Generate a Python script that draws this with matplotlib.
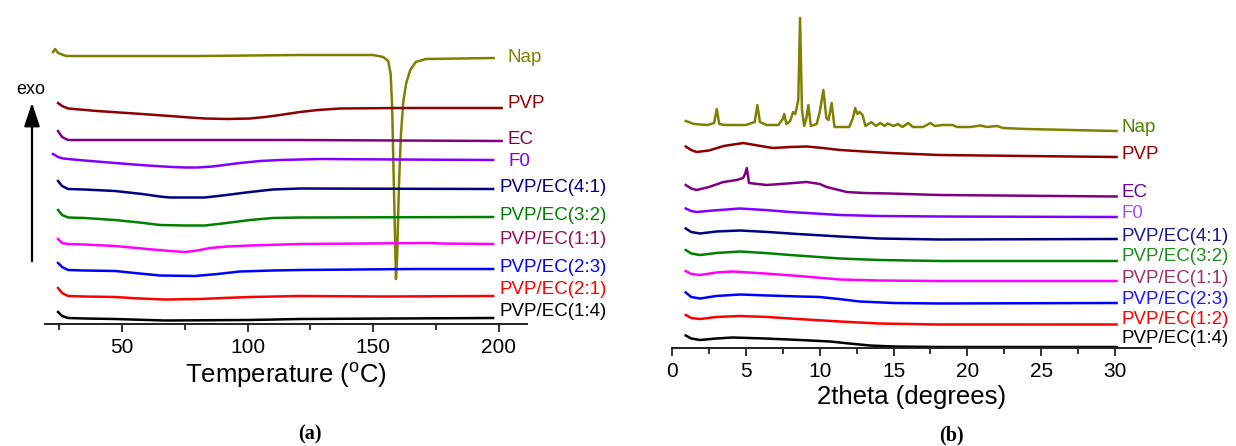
import matplotlib
matplotlib.use("Agg")
import matplotlib.pyplot as plt

plt.rcParams['font.family'] = ['Liberation Sans', 'DejaVu Sans']

# ---- (a) DSC curves, temperature in C, heat flow offset (a.u.) ----
nap_a_t = [22.5, 23.3, 24.5, 27.7, 41, 81, 121, 150, 154, 156, 157, 157.6, 158.3, 159.1,
           159.6, 160.3, 161.1, 162, 163.2, 164.8, 167, 171, 198]
nap_a_y = [27.2, 27.5, 27.1, 26.8, 26.8, 26.8, 26.9, 26.9, 26.7, 26.3, 25.0, 21.5, 13.5, 4.5,
           7.0, 14.0, 19.0, 22.2, 24.1, 25.4, 26.2, 26.5, 26.6]
pvp_a_t = [24.5, 26.1, 28.5, 40, 55, 69.1, 77, 83.0, 92, 101.0, 107, 112.9, 120.9, 128, 136.8,
           160.7, 201.2]
pvp_a_y = [22.1, 21.8, 21.55, 21.3, 21.05, 20.8, 20.65, 20.55, 20.5, 20.55, 20.7, 20.9, 21.2,
           21.4, 21.55, 21.6, 21.6]
ec_a_t = [24.5, 26.1, 28.5, 120, 201.2]
ec_a_y = [19.3, 18.7, 18.4, 18.4, 18.3]
f0_a_t = [22.5, 24.5, 26.5, 28.5, 35, 47.2, 60, 70, 75.1, 80, 86, 97.0, 105, 112.9, 128.9,
          160, 197.8]
f0_a_y = [17.0, 16.7, 16.55, 16.5, 16.35, 16.1, 15.85, 15.7, 15.65, 15.65, 15.75, 16.1, 16.3,
          16.4, 16.5, 16.45, 16.4]
r41_a_t = [24.5, 26.1, 28.5, 35, 47.2, 58, 65, 69.1, 83.0, 90, 101.0, 110, 120.9, 197.8]
r41_a_y = [14.3, 13.8, 13.5, 13.45, 13.3, 13.0, 12.75, 12.65, 12.65, 12.85, 13.2, 13.45, 13.55, 13.5]
r32_a_t = [24.5, 26.1, 28.5, 35, 47.2, 57, 65.1, 75, 83.0, 90, 101.0, 110, 120.9, 197.8]
r32_a_y = [11.4, 10.9, 10.65, 10.6, 10.4, 10.15, 9.9, 9.85, 9.85, 10.05, 10.4, 10.6, 10.65, 10.7]
r11_a_t = [24.5, 26.1, 28.5, 35, 47.2, 60, 69.1, 75.1, 80, 85.0, 92, 101.0, 120.9, 172.7,
           176.7, 197.8]
r11_a_y = [8.5, 8.1, 8.0, 7.95, 7.8, 7.5, 7.3, 7.2, 7.35, 7.6, 7.75, 7.85, 8.0, 8.1, 8.05, 8.0]
r23_a_t = [24.5, 26.1, 28.5, 35, 47.2, 57, 65.1, 79.1, 88, 97.0, 110, 120.9, 165.9, 197.8]
r23_a_y = [6.1, 5.7, 5.4, 5.35, 5.3, 5.05, 4.85, 4.8, 5.0, 5.25, 5.35, 5.4, 5.5, 5.5]
r21_a_t = [24.5, 26.1, 28.5, 35, 47.2, 57, 67.1, 81.1, 90, 101.0, 120.9, 154.8, 197.8]
r21_a_y = [3.6, 3.1, 2.8, 2.75, 2.7, 2.55, 2.45, 2.5, 2.6, 2.7, 2.8, 2.75, 2.8]
r14_a_t = [24.5, 26.1, 28.5, 35, 47.2, 67.1, 101.0, 120.9, 197.8]
r14_a_y = [1.2, 0.8, 0.6, 0.55, 0.5, 0.35, 0.4, 0.5, 0.6]

labels_a = ["Nap", "PVP", "EC", "F0", "PVP/EC(4:1)", "PVP/EC(3:2)", "PVP/EC(1:1)",
            "PVP/EC(2:3)", "PVP/EC(2:1)", "PVP/EC(1:4)"]

# ---- (b) XRD patterns, 2theta in degrees, intensity offset (a.u.) ----
nap_b_x = [0.93, 1.5, 2.4, 2.85, 3.03, 3.2, 3.6, 5.0, 5.6, 5.78, 5.95, 6.4, 7.2, 7.5, 7.6, 7.75,
           8.0, 8.2, 8.35, 8.55, 8.67, 8.8, 8.95, 9.1, 9.23, 9.4, 9.8, 10.0, 10.25, 10.45, 10.6,
           10.81, 11.0, 12.0, 12.25, 12.4, 12.55, 12.7, 12.9, 13.1, 13.5, 13.8, 14.1, 14.4, 14.6,
           15.0, 15.3, 15.6, 16.0, 16.3, 17.0, 17.5, 17.8, 18.3, 19.0, 19.3, 20.2, 20.9, 21.3,
           22.0, 22.4, 24.0, 27.0, 30.1]
nap_b_y = [22.7, 22.4, 22.3, 22.5, 23.9, 22.4, 22.3, 22.3, 22.6, 24.3, 22.6, 22.3, 22.3, 22.9, 23.4, 22.4,
           22.7, 23.6, 23.4, 24.8, 33.0, 23.8, 22.2, 23.0, 24.3, 22.2, 22.4, 23.6, 25.8, 23.0, 22.8,
           24.5, 22.1, 22.1, 23.0, 24.0, 23.4, 23.6, 23.3, 22.2, 22.6, 22.2, 22.5, 22.2, 22.45,
           22.2, 22.4, 22.1, 22.5, 22.1, 22.1, 22.5, 22.2, 22.3, 22.3, 22.1, 22.1, 22.25, 22.1,
           22.2, 22.0, 21.9, 21.8, 21.7]
pvp_b_x = [0.93, 1.3, 1.67, 2.5, 3.5, 4.83, 5.8, 6.84, 8, 9.12, 10.2, 11.37, 13, 14.76, 18.1, 24, 30.1]
pvp_b_y = [20.15, 19.8, 19.6, 19.75, 20.2, 20.5, 20.25, 20.0, 20.1, 20.15, 20.0, 19.8, 19.65,
           19.5, 19.3, 19.2, 19.1]
ec_b_x = [0.93, 1.3, 1.67, 2.5, 3.48, 4.38, 4.81, 4.95, 5.06, 5.15, 5.21, 5.8, 6.41, 7.8, 9.12,
          10.0, 10.47, 11.83, 13, 14.76, 18.1, 30.1]
ec_b_y = [16.3, 15.95, 15.8, 16.1, 16.6, 16.8, 17.0, 17.4, 18.0, 17.2, 16.5, 16.4, 16.3, 16.45,
          16.6, 16.4, 16.1, 15.6, 15.5, 15.45, 15.3, 15.15]
f0_b_x = [0.93, 1.3, 1.67, 2.8, 4.6, 6.3, 8.0, 11.37, 14, 18.1, 30.1]
f0_b_y = [13.95, 13.7, 13.6, 13.75, 13.95, 13.8, 13.6, 13.3, 13.2, 13.15, 13.1]
r41_b_x = [0.93, 1.3, 1.9, 3.0, 4.6, 6.5, 8.5, 11.37, 14, 18.1, 30.1]
r41_b_y = [11.95, 11.6, 11.45, 11.65, 11.75, 11.6, 11.4, 11.15, 10.95, 10.85, 10.9]
r32_b_x = [0.93, 1.3, 1.9, 3.0, 4.6, 6.3, 8.0, 11.37, 14, 18.1, 30.1]
r32_b_y = [9.8, 9.45, 9.3, 9.5, 9.65, 9.5, 9.3, 8.95, 8.8, 8.7, 8.7]
r11_b_x = [0.93, 1.3, 1.9, 3.0, 4.1, 6.3, 8.6, 11.37, 14, 18.1, 30.1]
r11_b_y = [7.7, 7.4, 7.3, 7.55, 7.65, 7.45, 7.2, 6.85, 6.75, 6.7, 6.7]
r23_b_x = [0.93, 1.3, 1.9, 3.0, 4.6, 6.5, 8.67, 10.0, 11.3, 12.7, 15, 18.1, 30.1]
r23_b_y = [5.55, 5.1, 4.95, 5.2, 5.35, 5.25, 5.15, 5.1, 4.9, 4.65, 4.5, 4.45, 4.5]
r12_b_x = [0.93, 1.3, 1.9, 3.0, 4.6, 6.5, 8.5, 11.37, 14, 18.1, 30.1]
r12_b_y = [3.3, 3.0, 2.9, 3.1, 3.2, 3.1, 2.9, 2.65, 2.45, 2.35, 2.35]
r14_b_x = [0.93, 1.3, 1.9, 3.0, 4.1, 6.3, 8.67, 10.7, 12, 13.4, 15, 18.1, 30.1]
r14_b_y = [1.25, 0.95, 0.8, 0.95, 1.05, 0.95, 0.8, 0.65, 0.45, 0.25, 0.15, 0.1, 0.1]

labels_b = ["Nap", "PVP", "EC", "F0", "PVP/EC(4:1)", "PVP/EC(3:2)", "PVP/EC(1:1)",
            "PVP/EC(2:3)", "PVP/EC(1:2)", "PVP/EC(1:4)"]

# origin-ish colours
line_colors = ['#808000', '#8B0000', '#800080', '#8000FF', '#000080', '#008000',
               '#FF00FF', '#0000FF', '#FF0000', '#000000']
text_colors_a = ['#808000', '#990000', '#80004A', '#8000FF', '#000080', '#008000',
                 '#99105A', '#0000FF', '#FF0000', '#000000']
text_colors_b = ['#4F8000', '#990000', '#660099', '#9955FF', '#1A1A8C', '#208C20',
                 '#993366', '#1A1AFF', '#FF0000', '#000000']

# label placement
label_a_x = [203.4, 203.4, 203.4, 203.8, 200.2, 200.2, 200.2, 200.2, 200.2, 200.2]
label_a_y = [26.6, 22.1, 18.4, 16.2, 13.6, 10.9, 8.5, 5.7, 3.4, 1.2]
label_b_x = 30.4
label_b_y = [22.1, 19.4, 15.55, 13.5, 11.2, 9.15, 6.95, 4.85, 2.8, 0.95]


def style_axis(ax):
    for side in ['top', 'left', 'right']:
        ax.spines[side].set_visible(False)
    ax.spines['bottom'].set_linewidth(1.4)
    ax.spines['bottom'].set_color('#222222')
    ax.set_yticks([])
    ax.tick_params(axis='x', which='major', direction='out', length=6, width=1.3,
                   labelsize=15, pad=4, color='#222222')
    ax.tick_params(axis='x', which='minor', direction='out', length=4, width=1.3, color='#222222')
    ax.patch.set_alpha(0)


fig = plt.figure(figsize=(12.36, 4.46), dpi=100)
W, H = 1236.0, 446.0

# ---------- panel (a) ----------
ax1 = fig.add_axes([45 / W, 122 / H, 482 / W, 314 / H])
series_a = [(nap_a_t, nap_a_y), (pvp_a_t, pvp_a_y), (ec_a_t, ec_a_y), (f0_a_t, f0_a_y),
            (r41_a_t, r41_a_y), (r32_a_t, r32_a_y), (r11_a_t, r11_a_y), (r23_a_t, r23_a_y),
            (r21_a_t, r21_a_y), (r14_a_t, r14_a_y)]
for i, (t, y) in enumerate(series_a):
    ax1.plot(t, y, color=line_colors[i], lw=1.8, solid_joinstyle='round')
    ax1.text(label_a_x[i], label_a_y[i], labels_a[i], color=text_colors_a[i],
             fontsize=13.5, ha='left', va='center')
ax1.set_xlim(19.3, 211.3)
ax1.set_ylim(0, 31.4)
ax1.set_xticks([50, 100, 150, 200])
ax1.set_xticks([25, 75, 125, 175], minor=True)
style_axis(ax1)
ax1.set_xlabel('Temperature ($\\mathregular{^{o}}$C)', fontsize=18.5, labelpad=3)

# exo arrow
fig.text(30.5 / W, 1 - 90 / H, 'exo', fontsize=13, ha='center', va='center')
fig.patches.append(matplotlib.patches.FancyArrowPatch(
    (32 / W, 1 - 264 / H), (32 / W, 1 - 100 / H), transform=fig.transFigure,
    arrowstyle='-|>,head_length=0.9,head_width=0.3', mutation_scale=16,
    color='black', lw=1.6))

# ---------- panel (b) ----------
ax2 = fig.add_axes([672 / W, 98 / H, 479 / W, 338 / H])
series_b = [(nap_b_x, nap_b_y), (pvp_b_x, pvp_b_y), (ec_b_x, ec_b_y), (f0_b_x, f0_b_y),
            (r41_b_x, r41_b_y), (r32_b_x, r32_b_y), (r11_b_x, r11_b_y), (r23_b_x, r23_b_y),
            (r12_b_x, r12_b_y), (r14_b_x, r14_b_y)]
for i, (x, y) in enumerate(series_b):
    ax2.plot(x, y, color=line_colors[i], lw=1.8, solid_joinstyle='round')
    ax2.text(label_b_x, label_b_y[i], labels_b[i], color=text_colors_b[i],
             fontsize=13.5, ha='left', va='center')
ax2.set_xlim(0, 32.43)
ax2.set_ylim(0, 33.8)
ax2.set_xticks([0, 5, 10, 15, 20, 25, 30])
ax2.set_xticks([2.5, 7.5, 12.5, 17.5, 22.5, 27.5], minor=True)
style_axis(ax2)
ax2.set_xlabel('2theta (degrees)', fontsize=18.5, labelpad=3)

# panel tags
fig.text(309.5 / W, 1 - 434 / H, '(a)', fontsize=14.5, fontweight='bold',
         family='Liberation Serif', ha='center', va='center')
fig.text(951 / W, 1 - 435 / H, '(b)', fontsize=14.5, fontweight='bold',
         family='Liberation Serif', ha='center', va='center')

plt.savefig('out.png', dpi=100)
